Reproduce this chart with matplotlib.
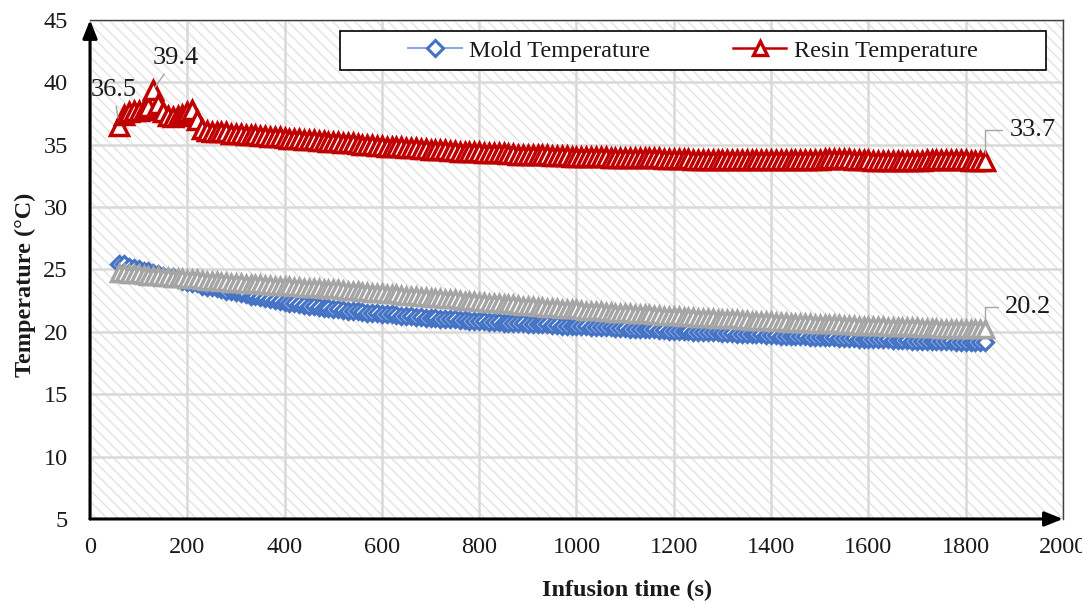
import matplotlib
matplotlib.use("Agg")
import matplotlib.pyplot as plt
from matplotlib.patches import Rectangle
from matplotlib.lines import Line2D

plt.rcParams["font.family"] = ["Liberation Serif", "DejaVu Serif"]
plt.rcParams["hatch.linewidth"] = 1.0

# Sampling instants (s), one reading every 10 s
time_s = list(range(60, 1850, 10))

resin_temp = [
    36.5, 37.4, 37.6, 37.7, 37.7, 37.8, 38.0, 39.4, 38.3, 37.6,
    37.3, 37.2, 37.3, 37.4, 37.6, 37.8, 37.0, 36.3, 36.1, 36.0,
    36.0, 36.0, 36.0, 35.9, 35.9,
    35.85, 35.8, 35.8, 35.75, 35.7, 35.7, 35.65, 35.6, 35.6, 35.55,
    35.5, 35.5, 35.45, 35.4, 35.4, 35.35, 35.3, 35.3, 35.25, 35.2,
    35.2, 35.15, 35.1, 35.1, 35.05, 35.0, 35.0, 34.95, 34.9, 34.9,
    34.85, 34.85, 34.8, 34.8, 34.75, 34.7, 34.7, 34.65, 34.65, 34.6,
    34.6, 34.55, 34.55, 34.5, 34.5, 34.45, 34.45, 34.4, 34.4, 34.4,
    34.35, 34.35, 34.3, 34.3, 34.3, 34.25, 34.25, 34.2, 34.2, 34.2,
    34.2, 34.15, 34.15, 34.15, 34.1, 34.1, 34.1, 34.1, 34.05, 34.05,
    34.05, 34.0, 34.0, 34.0, 34.0, 34.0, 33.95, 33.95, 33.95, 33.95,
    33.95, 33.9, 33.9, 33.9, 33.9, 33.9, 33.9, 33.85, 33.85, 33.85,
    33.85, 33.85, 33.85, 33.8, 33.8, 33.8, 33.8, 33.8, 33.8, 33.8,
    33.8, 33.8, 33.8, 33.75, 33.75, 33.75, 33.75, 33.75, 33.75, 33.75,
    33.75, 33.75, 33.75, 33.75, 33.75, 33.75, 33.8, 33.8, 33.8, 33.8,
    33.85, 33.85, 33.85, 33.85, 33.85, 33.85, 33.8, 33.8, 33.75, 33.75,
    33.7, 33.7, 33.7, 33.7, 33.7, 33.7, 33.7, 33.7, 33.7, 33.7,
    33.7, 33.75, 33.8, 33.8, 33.8, 33.8, 33.8, 33.8, 33.8, 33.75,
    33.7, 33.7, 33.7, 33.7,
]

mold_temp = [
    25.4, 25.4, 25.2, 25.1, 25.0, 24.9, 24.9, 24.7, 24.6, 24.5,
    24.4, 24.4, 24.2, 24.1, 24.0, 23.9, 23.9, 23.7, 23.6, 23.6,
    23.5, 23.4, 23.3, 23.3, 23.2,
    23.1, 23.0, 22.9, 22.85, 22.8, 22.7, 22.6, 22.55, 22.5, 22.4,
    22.35, 22.3, 22.2, 22.15, 22.1, 22.05, 22.0, 21.95, 21.9, 21.85,
    21.8, 21.75, 21.7, 21.7, 21.65, 21.6, 21.55, 21.5, 21.5, 21.45,
    21.4, 21.4, 21.35, 21.3, 21.3, 21.25, 21.2, 21.2, 21.15, 21.1,
    21.1, 21.05, 21.05, 21.0, 21.0, 20.95, 20.95, 20.9, 20.9, 20.85,
    20.85, 20.8, 20.8, 20.8, 20.75, 20.75, 20.7, 20.7, 20.7, 20.65,
    20.65, 20.6, 20.6, 20.6, 20.55, 20.55, 20.5, 20.5, 20.5, 20.45,
    20.45, 20.45, 20.4, 20.4, 20.4, 20.35, 20.35, 20.3, 20.3, 20.3,
    20.25, 20.25, 20.25, 20.2, 20.2, 20.2, 20.15, 20.15, 20.1, 20.1,
    20.1, 20.05, 20.05, 20.0, 20.0, 20.0, 19.95, 19.95, 19.95, 19.9,
    19.9, 19.9, 19.85, 19.85, 19.85, 19.8, 19.8, 19.8, 19.75, 19.75,
    19.75, 19.7, 19.7, 19.7, 19.65, 19.65, 19.65, 19.6, 19.6, 19.6,
    19.55, 19.55, 19.55, 19.5, 19.5, 19.5, 19.5, 19.45, 19.45, 19.45,
    19.4, 19.4, 19.4, 19.4, 19.35, 19.35, 19.35, 19.35, 19.3, 19.3,
    19.3, 19.3, 19.3, 19.25, 19.25, 19.25, 19.25, 19.2, 19.2, 19.2,
    19.2, 19.2, 19.15, 19.2,
]

ambient_temp = [
    24.7, 24.7, 24.65, 24.6, 24.6, 24.55, 24.5, 24.5, 24.45, 24.4,
    24.4, 24.35, 24.3, 24.3, 24.25, 24.2, 24.2, 24.15, 24.1, 24.1,
    24.05, 24.0, 24.0, 23.95, 23.9,
    23.9, 23.85, 23.85, 23.8, 23.8, 23.75, 23.75, 23.7, 23.7, 23.65,
    23.65, 23.6, 23.6, 23.55, 23.55, 23.5, 23.5, 23.45, 23.45, 23.4,
    23.4, 23.35, 23.3, 23.3, 23.25, 23.2, 23.2, 23.15, 23.1, 23.1,
    23.05, 23.0, 23.0, 22.95, 22.9, 22.9, 22.85, 22.8, 22.8, 22.75,
    22.7, 22.7, 22.65, 22.6, 22.6, 22.55, 22.5, 22.5, 22.45, 22.4,
    22.4, 22.35, 22.3, 22.3, 22.25, 22.2, 22.2, 22.15, 22.1, 22.1,
    22.05, 22.0, 22.0, 21.95, 21.9, 21.9, 21.85, 21.85, 21.8, 21.8,
    21.75, 21.7, 21.7, 21.65, 21.65, 21.6, 21.6, 21.55, 21.55, 21.5,
    21.5, 21.45, 21.45, 21.4, 21.4, 21.35, 21.35, 21.3, 21.3, 21.25,
    21.25, 21.2, 21.2, 21.2, 21.15, 21.15, 21.1, 21.1, 21.05, 21.05,
    21.0, 21.0, 21.0, 20.95, 20.95, 20.9, 20.9, 20.9, 20.85, 20.85,
    20.8, 20.8, 20.8, 20.75, 20.75, 20.7, 20.7, 20.7, 20.65, 20.65,
    20.65, 20.6, 20.6, 20.6, 20.55, 20.55, 20.55, 20.5, 20.5, 20.5,
    20.45, 20.45, 20.45, 20.4, 20.4, 20.4, 20.4, 20.35, 20.35, 20.35,
    20.3, 20.3, 20.3, 20.3, 20.25, 20.25, 20.25, 20.25, 20.2, 20.2,
    20.2, 20.2, 20.2, 20.2,
]

x_ticks = list(range(0, 2001, 200))
y_ticks = list(range(5, 46, 5))

BLUE = "#4472C4"
BLUE_LINE = "#8FAADC"
RED = "#C00000"
GREY = "#A5A5A5"
TEXT = "#1A1A1A"

fig = plt.figure(figsize=(10.82, 6.06), dpi=100)
ax = fig.add_axes([0.0832, 0.1436, 0.8992, 0.8234])
ax.set_xlim(0, 2000)
ax.set_ylim(5, 45)

# patterned plot area
ax.patch.set_facecolor("white")
ax.add_patch(Rectangle((0, 0), 1, 1, transform=ax.transAxes, facecolor="white",
                       edgecolor="#E3E3E3", lw=0, hatch="\\\\\\", zorder=0.1))
ax.set_axisbelow(True)
ax.grid(True, color="#D9D9D9", lw=1.8)

ax.set_xticks(x_ticks)
ax.set_yticks(y_ticks)
ax.tick_params(length=0, labelsize=17.5, colors=TEXT)
ax.tick_params(axis="y", pad=16)
ax.tick_params(axis="x", pad=13)

for side in ("left", "bottom"):
    ax.spines[side].set_visible(False)
for side in ("top", "right"):
    ax.spines[side].set_color("#404040")
    ax.spines[side].set_linewidth(1.0)

arrow = dict(arrowstyle="-|>,head_length=0.55,head_width=0.22", lw=2.2,
             color="black", mutation_scale=20, shrinkA=0, shrinkB=0)
ax.annotate("", xy=(0, 1), xytext=(0, 0), xycoords="axes fraction",
            textcoords="axes fraction", arrowprops=arrow, annotation_clip=False)
ax.annotate("", xy=(1, 0), xytext=(0, 0), xycoords="axes fraction",
            textcoords="axes fraction", arrowprops=arrow, annotation_clip=False)

ax.plot(time_s, mold_temp, color=BLUE_LINE, lw=1.2, marker="D", ms=8.5,
        mfc="white", mec=BLUE, mew=2.3, zorder=3)
ax.plot(time_s, resin_temp, color=RED, lw=1.2, marker="^", ms=13,
        mfc="white", mec=RED, mew=2.5, zorder=4)
ax.plot(time_s, ambient_temp, color=GREY, lw=1.2, marker="^", ms=12,
        mfc="white", mec=GREY, mew=2.5, zorder=5)

ax.set_ylabel("Temperature (°C)", fontsize=17.5, fontweight="bold", color=TEXT)
ax.yaxis.set_label_coords(-0.056, 0.47)
ax.set_xlabel("Infusion time (s)", fontsize=17.5, fontweight="bold", color=TEXT)
ax.xaxis.set_label_coords(0.552, -0.122)

# value labels with leader lines
lead = dict(arrowstyle="-", color="#A6A6A6", lw=1.0)
i_first = 0
i_peak = resin_temp.index(max(resin_temp))
i_last = len(time_s) - 1

ax.annotate(f"{resin_temp[i_first]:.1f}", xy=(time_s[i_first], resin_temp[i_first]),
            xytext=(-4, 26), textcoords="offset points", ha="center", va="center",
            fontsize=19, color=TEXT, zorder=8,
            arrowprops=dict(lead, shrinkA=2, shrinkB=6))
ax.annotate(f"{resin_temp[i_peak]:.1f}", xy=(time_s[i_peak], resin_temp[i_peak]),
            xytext=(16, 23), textcoords="offset points", ha="center", va="center",
            fontsize=19, color=TEXT, zorder=8,
            arrowprops=dict(lead, shrinkA=2, shrinkB=2))
ax.annotate(f"{resin_temp[i_last]:.1f}", xy=(time_s[i_last], resin_temp[i_last]),
            xytext=(34, 22), textcoords="offset points", ha="center", va="center",
            fontsize=19, color=TEXT, zorder=8,
            arrowprops=dict(lead, shrinkA=3, shrinkB=6,
                            connectionstyle="angle,angleA=0,angleB=90,rad=0"))
ax.annotate(f"{ambient_temp[i_last]:.1f}", xy=(time_s[i_last], ambient_temp[i_last]),
            xytext=(31, 16), textcoords="offset points", ha="center", va="center",
            fontsize=19, color=TEXT, zorder=8,
            arrowprops=dict(lead, shrinkA=3, shrinkB=6,
                            connectionstyle="angle,angleA=0,angleB=90,rad=0"))

# legend box with centred entries
lx0, ly0, lw_, lh_ = 0.257, 0.900, 0.7255, 0.077
ax.add_patch(Rectangle((lx0, ly0), lw_, lh_, transform=ax.transAxes,
                       facecolor="white", edgecolor="black", lw=1.2, zorder=9))
handles = [
    Line2D([], [], color=BLUE_LINE, lw=1.5, marker="D", ms=8, mfc="white",
           mec=BLUE, mew=2.2),
    Line2D([], [], color=RED, lw=1.8, marker="^", ms=10, mfc="white",
           mec=RED, mew=2.4),
]
leg = ax.legend(handles, ["Mold Temperature", "Resin Temperature"], ncol=2,
                loc="center", bbox_to_anchor=(lx0, ly0, lw_, lh_),
                bbox_transform=ax.transAxes, frameon=False, fontsize=17.5,
                handlelength=2.2, handletextpad=0.3, columnspacing=3.4,
                borderaxespad=0, borderpad=0)
leg.set_zorder(10)
for t in leg.get_texts():
    t.set_color(TEXT)

fig.savefig("out.png", dpi=100)
